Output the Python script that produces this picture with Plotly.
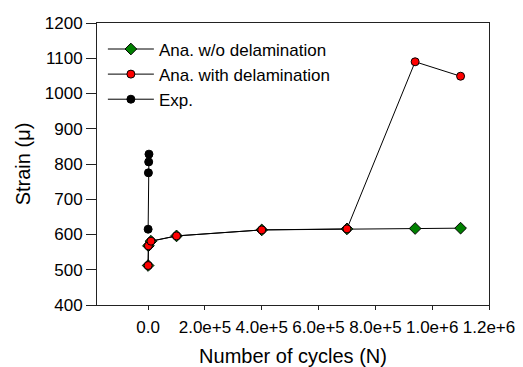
import plotly.graph_objects as go

# Data
cycles_ana = [0, 1000, 10000, 100000, 400000, 700000, 940000, 1100000]
strain_wo_delam = [512, 568, 581, 596, 613, 616, 617, 618]
strain_with_delam = [512, 568, 581, 596, 613, 616, 1090, 1049]
cycles_exp = [0, 1000, 2000, 3000]
strain_exp = [615, 775, 806, 828]

xtick_vals = [0, 200000, 400000, 600000, 800000, 1000000, 1200000]
xtick_text = ["0.0", "2.0e+5", "4.0e+5", "6.0e+5", "8.0e+5", "1.0e+6", "1.2e+6"]
ytick_vals = [400, 500, 600, 700, 800, 900, 1000, 1100, 1200]

FONT = "Liberation Sans, Arial, sans-serif"

fig = go.Figure()
fig.add_trace(go.Scatter(
    x=cycles_ana, y=strain_wo_delam, mode="lines+markers",
    name="Ana. w/o delamination",
    line=dict(color="black", width=1),
    marker=dict(symbol="diamond", size=9, color="#008000", line=dict(color="black", width=1)),
))
fig.add_trace(go.Scatter(
    x=cycles_ana, y=strain_with_delam, mode="lines+markers",
    name="Ana. with delamination",
    line=dict(color="black", width=1),
    marker=dict(symbol="circle", size=8, color="#ff0000", line=dict(color="black", width=1)),
))
fig.add_trace(go.Scatter(
    x=cycles_exp, y=strain_exp, mode="lines+markers",
    name="Exp.",
    line=dict(color="black", width=1),
    marker=dict(symbol="circle", size=8, color="black", line=dict(color="black", width=1)),
))

fig.update_layout(
    width=523, height=367,
    margin=dict(l=97, r=34, t=23, b=62),
    paper_bgcolor="white", plot_bgcolor="white",
    font=dict(family=FONT, color="black", size=17),
    showlegend=True,
    legend=dict(
        x=0.015, y=0.97, xanchor="left", yanchor="top",
        bgcolor="rgba(0,0,0,0)", font=dict(size=17, family=FONT),
        tracegroupgap=0, itemwidth=46,
    ),
    xaxis=dict(
        range=[-180000, 1200000], tickvals=xtick_vals, ticktext=xtick_text,
        showgrid=False, zeroline=False, automargin=False,
        showline=True, linecolor="#222", linewidth=1, mirror=True,
        ticks="outside", ticklen=4, tickcolor="#222",
        tickfont=dict(size=17), ticklabelstandoff=3,
        title=dict(text="Number of cycles (N)", font=dict(size=20), standoff=18),
    ),
    yaxis=dict(
        range=[400, 1200], tickvals=ytick_vals,
        showgrid=False, zeroline=False, automargin=False,
        showline=True, linecolor="#222", linewidth=1, mirror=True,
        ticks="outside", ticklen=10, tickcolor="#222",
        tickfont=dict(size=17),
        title=dict(text="Strain (μ)", font=dict(size=20), standoff=8),
    ),
)

fig.write_html(
    "out.html",
    config={"displayModeBar": False},
    post_script="document.body.style.margin='0';document.body.style.overflow='hidden';",
)
